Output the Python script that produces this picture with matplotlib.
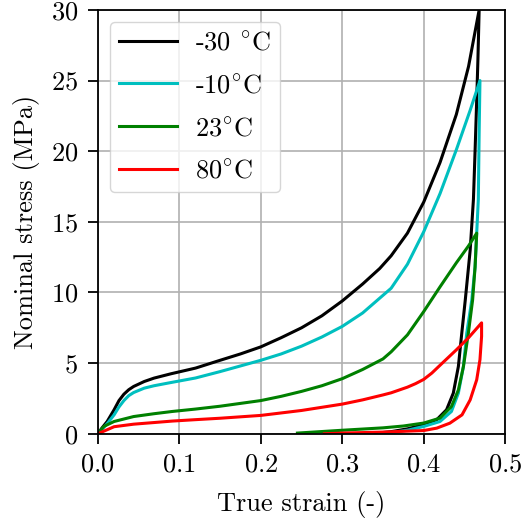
import matplotlib
matplotlib.use("Agg")
import matplotlib.pyplot as plt

plt.rcParams['font.family'] = ['cmr10', 'DejaVu Serif']
plt.rcParams['mathtext.fontset'] = 'cm'
plt.rcParams['axes.formatter.use_mathtext'] = True
plt.rcParams['font.size'] = 19
plt.rcParams['axes.linewidth'] = 1.3

labels = ['-30 $^{\\circ}\\mathrm{C}$', '-10$^{\\circ}\\mathrm{C}$', '23$^{\\circ}\\mathrm{C}$', '80$^{\\circ}\\mathrm{C}$']
colors = ['k', 'c', 'g', 'r']

# loading branches (strain, stress in MPa)
load_x_m30 = [0, 0.005, 0.0115, 0.02, 0.026, 0.032, 0.038, 0.044, 0.057, 0.069, 0.09, 0.12, 0.15, 0.175, 0.2,
              0.225, 0.25, 0.275, 0.3, 0.325, 0.346, 0.36, 0.38, 0.4, 0.42, 0.44, 0.455, 0.468]
load_y_m30 = [0, 0.4, 0.87, 1.7, 2.35, 2.8, 3.12, 3.35, 3.7, 3.94, 4.25, 4.65, 5.2, 5.65, 6.15,
              6.8, 7.5, 8.35, 9.4, 10.6, 11.7, 12.6, 14.2, 16.4, 19.2, 22.6, 26.0, 30.0]
load_x_m10 = [0, 0.006, 0.012, 0.02, 0.026, 0.032, 0.038, 0.044, 0.057, 0.069, 0.09, 0.12, 0.15, 0.175, 0.2,
              0.225, 0.25, 0.275, 0.3, 0.325, 0.35, 0.36, 0.38, 0.4, 0.42, 0.44, 0.457, 0.469]
load_y_m10 = [0, 0.35, 0.75, 1.34, 1.9, 2.35, 2.7, 2.92, 3.23, 3.4, 3.63, 3.95, 4.4, 4.8, 5.2,
              5.65, 6.2, 6.85, 7.6, 8.55, 9.8, 10.3, 12.0, 14.3, 17.0, 20.1, 22.9, 25.0]
load_x_23 = [0, 0.0074, 0.02, 0.044, 0.069, 0.0915, 0.12, 0.15, 0.175, 0.2, 0.225, 0.25, 0.275, 0.3,
             0.325, 0.35, 0.36, 0.38, 0.4, 0.42, 0.44, 0.455, 0.465]
load_y_23 = [0, 0.52, 0.87, 1.22, 1.42, 1.58, 1.75, 1.95, 2.15, 2.35, 2.65, 3.0, 3.4, 3.9,
             4.55, 5.3, 5.8, 7.0, 8.65, 10.4, 12.1, 13.3, 14.2]
load_x_80 = [0, 0.02, 0.044, 0.07, 0.0915, 0.12, 0.15, 0.2, 0.25, 0.3, 0.325, 0.35, 0.36, 0.38, 0.39,
             0.4, 0.41, 0.42, 0.44, 0.455, 0.471]
load_y_80 = [0, 0.5, 0.68, 0.8, 0.9, 1.0, 1.1, 1.3, 1.65, 2.1, 2.4, 2.75, 2.9, 3.3, 3.55,
             3.85, 4.3, 4.85, 5.94, 6.8, 7.85]

# unloading branches
unl_x_m30 = [0.468, 0.4665, 0.465, 0.463, 0.461, 0.457, 0.451, 0.4467, 0.4425, 0.4363, 0.428, 0.416, 0.4,
             0.38, 0.36, 0.34]
unl_y_m30 = [30.0, 26.5, 23.6, 20.0, 16.6, 13.0, 9.48, 7.13, 4.76, 2.88, 1.7, 1.0, 0.64,
             0.35, 0.15, 0.03]
unl_x_m10 = [0.469, 0.468, 0.467, 0.463, 0.459, 0.4528, 0.4487, 0.4425, 0.434, 0.42, 0.4, 0.38, 0.36, 0.345]
unl_y_m10 = [25.0, 21.3, 16.6, 11.8, 9.48, 7.13, 4.76, 2.88, 1.58, 0.87, 0.52, 0.25, 0.08, 0]
unl_x_23 = [0.465, 0.463, 0.46, 0.4548, 0.4487, 0.4425, 0.434, 0.42, 0.4, 0.375, 0.35, 0.3, 0.245]
unl_y_23 = [14.2, 11.8, 9.48, 7.13, 4.76, 3.1, 1.93, 1.11, 0.76, 0.55, 0.42, 0.25, 0.05]
unl_x_80 = [0.471, 0.471, 0.469, 0.465, 0.457, 0.447, 0.432, 0.416, 0.4, 0.35, 0.3, 0.278]
unl_y_80 = [7.83, 6.9, 5.24, 3.82, 2.4, 1.34, 0.75, 0.4, 0.23, 0.12, 0.05, 0]

xs = [load_x_m30 + unl_x_m30, load_x_m10 + unl_x_m10, load_x_23 + unl_x_23, load_x_80 + unl_x_80]
ys = [load_y_m30 + unl_y_m30, load_y_m10 + unl_y_m10, load_y_23 + unl_y_23, load_y_80 + unl_y_80]

fig = plt.figure(figsize=(5.23, 5.22), dpi=100)
ax = fig.add_axes([0.187, 0.169, 0.779, 0.812])
for x, y, c, lab in zip(xs, ys, colors, labels):
    ax.plot(x, y, color=c, lw=2.2, label=lab)

ax.set_xlim(0, 0.5)
ax.set_ylim(0, 30)
ax.set_xticks([0, 0.1, 0.2, 0.3, 0.4, 0.5])
ax.set_yticks([0, 5, 10, 15, 20, 25, 30])
ax.tick_params(length=7, width=1.3, pad=7)
ax.grid(True, color='#b0b0b0', lw=1.2)
ax.set_xlabel('True strain (-)', labelpad=10)
ax.set_ylabel('Nominal stress (MPa)', labelpad=8)
ax.legend(loc='upper left', handlelength=2.2, handletextpad=0.7, labelspacing=0.72,
          borderpad=0.35, borderaxespad=0.45)

fig.savefig('out.png', dpi=100)
